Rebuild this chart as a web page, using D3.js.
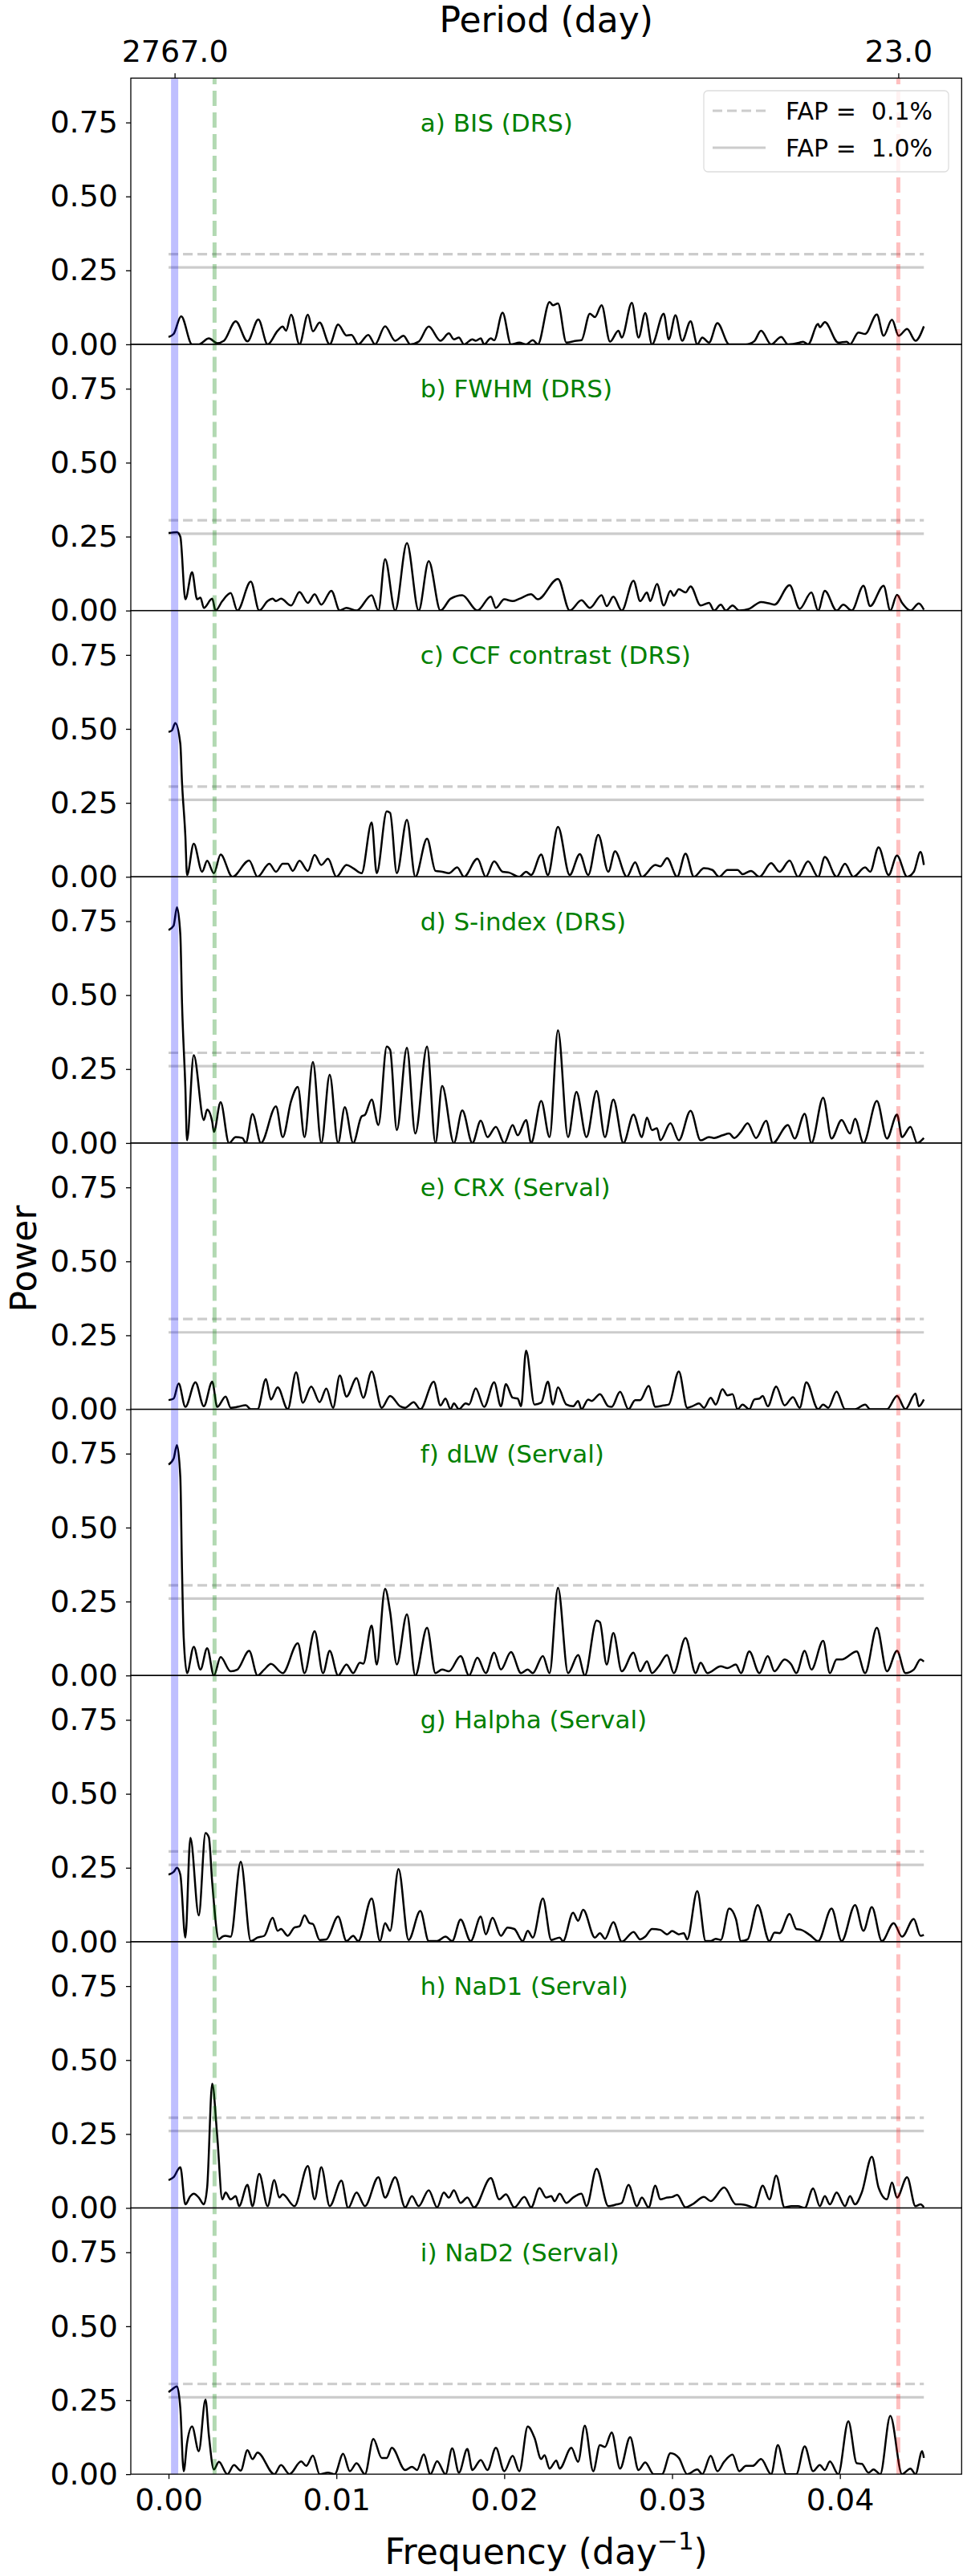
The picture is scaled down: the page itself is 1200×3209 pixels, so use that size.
<!DOCTYPE html>
<html>
<head>
<meta charset="utf-8">
<script src="https://cdn.jsdelivr.net/npm/d3@7"></script>
<style>
  body { margin: 0; background: #fff; }
  svg { display: block; font-family: "DejaVu Sans", sans-serif; }
</style>
</head>
<body>
<div id="chart"></div>
<script>
// panel titles, in drawing order
var titles = ["a) BIS (DRS)", "b) FWHM (DRS)", "c) CCF contrast (DRS)", "d) S-index (DRS)",
  "e) CRX (Serval)", "f) dLW (Serval)", "g) Halpha (Serval)", "h) NaD1 (Serval)", "i) NaD2 (Serval)"];

// periodograms: [frequency (1/day), power]
var bisDRS = [[0,0.025],[0.0003,0.035],[0.00075,0.095],[0.0014,0.0],[0.0018,0.0],[0.0024,0.02],[0.0029,0.004],[0.0033,0.012],[0.004,0.078],[0.0047,0.01],[0.00535,0.084],[0.0059,0.0],[0.0065,0.046],[0.0068,0.06],[0.007,0.046],[0.0073,0.10],[0.0078,0.0],[0.0083,0.10],[0.0086,0.044],[0.009,0.074],[0.0096,0.0],[0.0101,0.067],[0.0106,0.03],[0.0109,0.032],[0.0113,0.0],[0.0119,0.032],[0.0123,0.0],[0.0129,0.061],[0.0135,0.012],[0.014,0.029],[0.0144,0.0],[0.0149,0.009],[0.0155,0.06],[0.0162,0.012],[0.0167,0.037],[0.017,0.017],[0.0173,0.023],[0.0176,0.0],[0.0181,0.017],[0.0183,0.012],[0.0186,0.02],[0.0188,0.0],[0.0192,0.02],[0.0194,0.014],[0.0199,0.107],[0.0204,0.0],[0.0209,0.006],[0.0213,0.0],[0.0217,0.014],[0.022,0.0],[0.0227,0.143],[0.0229,0.132],[0.0232,0.138],[0.0237,0.006],[0.0243,0.012],[0.0246,0.014],[0.0251,0.104],[0.0254,0.092],[0.0258,0.132],[0.0263,0.009],[0.0268,0.046],[0.027,0.023],[0.0276,0.14],[0.028,0.023],[0.0284,0.106],[0.0288,0.0],[0.0295,0.104],[0.0298,0.017],[0.0302,0.098],[0.0306,0.012],[0.0311,0.078],[0.0315,0.0],[0.0318,0.023],[0.0322,0.006],[0.0327,0.072],[0.0334,0.0],[0.0344,0.0],[0.0349,0.011],[0.0353,0.046],[0.0359,0.0],[0.0365,0.025],[0.0369,0.0],[0.0376,0.006],[0.0378,0.009],[0.0381,0.0],[0.0387,0.069],[0.0388,0.058],[0.0391,0.075],[0.0399,0.006],[0.0404,0.009],[0.0406,0.0],[0.0411,0.04],[0.0415,0.035],[0.0422,0.101],[0.0426,0.029],[0.0431,0.083],[0.0435,0.029],[0.044,0.052],[0.0445,0.012],[0.045,0.061]];

var fwhmDRS = [[0,0.262],[0.0005,0.265],[0.0007,0.25],[0.001,0.038],[0.0014,0.13],[0.0017,0.038],[0.0019,0.044],[0.0021,0.009],[0.0026,0.04],[0.0028,0.0],[0.0032,0.032],[0.0037,0.059],[0.0041,0.0],[0.0049,0.098],[0.0054,0.0],[0.0059,0.032],[0.0062,0.04],[0.0064,0.032],[0.0067,0.04],[0.0073,0.017],[0.0078,0.063],[0.0083,0.026],[0.0087,0.055],[0.0091,0.02],[0.0097,0.067],[0.0102,0.0],[0.0106,0.009],[0.0112,0.0],[0.0121,0.052],[0.0125,0.0],[0.0129,0.174],[0.0135,0.0],[0.0142,0.228],[0.0149,0.0],[0.0155,0.167],[0.0162,0.0],[0.0168,0.04],[0.0175,0.052],[0.0184,0.0],[0.0192,0.047],[0.0195,0.009],[0.02,0.038],[0.0205,0.032],[0.0209,0.04],[0.0216,0.055],[0.022,0.038],[0.0232,0.107],[0.0239,0.0],[0.0246,0.035],[0.0251,0.009],[0.0258,0.052],[0.0261,0.015],[0.0265,0.047],[0.027,0.0],[0.0277,0.101],[0.0281,0.032],[0.0285,0.061],[0.0287,0.032],[0.0291,0.09],[0.0295,0.017],[0.0299,0.067],[0.0301,0.05],[0.0304,0.072],[0.0308,0.061],[0.0311,0.082],[0.0317,0.017],[0.0322,0.026],[0.0325,0.0],[0.0329,0.02],[0.0332,0.0],[0.0336,0.017],[0.034,0.0],[0.0346,0.006],[0.0353,0.029],[0.0358,0.024],[0.0361,0.02],[0.037,0.086],[0.0376,0.006],[0.0383,0.061],[0.0387,0.0],[0.0391,0.067],[0.0398,0.0],[0.0402,0.02],[0.0407,0.0],[0.0414,0.084],[0.0418,0.015],[0.0426,0.084],[0.043,0.0],[0.0434,0.053],[0.0437,0.026],[0.0442,0.0],[0.0447,0.024],[0.045,0.003]];

var ccfDRS = [[0,0.49],[0.0002,0.495],[0.0004,0.52],[0.0007,0.45],[0.0008,0.32],[0.001,0.138],[0.0011,0.006],[0.0015,0.112],[0.002,0.017],[0.0023,0.054],[0.0027,0.012],[0.0031,0.075],[0.0038,0.0],[0.0048,0.055],[0.0053,0.0],[0.006,0.044],[0.0064,0.017],[0.0068,0.044],[0.0071,0.044],[0.0074,0.02],[0.0078,0.054],[0.0083,0.02],[0.0087,0.074],[0.0091,0.04],[0.0095,0.061],[0.01,0.0],[0.0106,0.04],[0.011,0.029],[0.0115,0.012],[0.0121,0.184],[0.0124,0.012],[0.013,0.221],[0.0132,0.216],[0.0136,0.012],[0.0142,0.193],[0.0147,0.0],[0.0154,0.129],[0.0159,0.02],[0.0163,0.017],[0.0167,0.012],[0.0172,0.032],[0.0176,0.0],[0.0184,0.061],[0.0189,0.0],[0.0194,0.052],[0.0199,0.017],[0.0203,0.014],[0.0209,0.0],[0.0213,0.017],[0.0216,0.006],[0.0222,0.075],[0.0226,0.006],[0.0232,0.169],[0.0239,0.006],[0.0245,0.077],[0.025,0.006],[0.0256,0.142],[0.0262,0.017],[0.0266,0.086],[0.0273,0.0],[0.0278,0.049],[0.0282,0.0],[0.029,0.04],[0.0293,0.035],[0.0297,0.063],[0.0303,0.0],[0.0308,0.078],[0.0313,0.0],[0.0319,0.029],[0.0324,0.023],[0.0328,0.0],[0.0333,0.023],[0.0339,0.023],[0.0342,0.009],[0.0347,0.02],[0.0352,0.0],[0.0359,0.046],[0.0364,0.017],[0.037,0.055],[0.0375,0.0],[0.0381,0.052],[0.0387,0.0],[0.0391,0.067],[0.0398,0.0],[0.0403,0.044],[0.0408,0.0],[0.0415,0.032],[0.0418,0.017],[0.0423,0.1],[0.0429,0.006],[0.0434,0.072],[0.044,0.0],[0.0444,0.017],[0.0448,0.084],[0.045,0.04]];

var sindexDRS = [[0,0.72],[0.0003,0.735],[0.0005,0.797],[0.0007,0.705],[0.0008,0.475],[0.001,0.188],[0.0011,0.009],[0.0015,0.297],[0.0021,0.078],[0.0023,0.113],[0.0026,0.072],[0.0027,0.038],[0.0031,0.138],[0.0036,0.0],[0.004,0.02],[0.0044,0.017],[0.0046,0.0],[0.005,0.098],[0.0055,0.0],[0.0064,0.124],[0.0068,0.02],[0.0073,0.142],[0.0077,0.19],[0.0081,0.02],[0.0086,0.274],[0.0091,0.0],[0.0096,0.231],[0.0101,0.0],[0.0105,0.121],[0.011,0.0],[0.0115,0.09],[0.0117,0.095],[0.0121,0.147],[0.0125,0.061],[0.013,0.326],[0.0132,0.315],[0.0136,0.044],[0.0142,0.322],[0.0147,0.032],[0.0154,0.326],[0.0159,0.0],[0.0163,0.193],[0.017,0.0],[0.0175,0.11],[0.0181,0.0],[0.0186,0.076],[0.019,0.02],[0.0195,0.055],[0.02,0.0],[0.0205,0.061],[0.0208,0.026],[0.0213,0.078],[0.0216,0.0],[0.0222,0.142],[0.0227,0.02],[0.0232,0.381],[0.0238,0.02],[0.0243,0.173],[0.0249,0.02],[0.0255,0.176],[0.026,0.02],[0.0265,0.147],[0.0271,0.0],[0.0277,0.096],[0.0282,0.02],[0.0285,0.086],[0.0288,0.044],[0.0291,0.05],[0.0293,0.009],[0.0299,0.067],[0.0304,0.009],[0.0311,0.109],[0.0317,0.009],[0.0322,0.02],[0.0325,0.017],[0.033,0.026],[0.0334,0.032],[0.0337,0.017],[0.0341,0.038],[0.0345,0.067],[0.035,0.017],[0.0356,0.075],[0.036,0.0],[0.0369,0.061],[0.0373,0.015],[0.0379,0.099],[0.0383,0.0],[0.039,0.153],[0.0395,0.015],[0.0401,0.078],[0.0406,0.032],[0.0409,0.082],[0.0414,0.0],[0.0422,0.142],[0.0428,0.015],[0.0434,0.096],[0.0437,0.02],[0.0442,0.055],[0.0446,0.0],[0.045,0.017]];

var crxServal = [[0,0.031],[0.0003,0.036],[0.0006,0.087],[0.001,0.008],[0.0016,0.091],[0.0021,0.01],[0.0026,0.093],[0.0029,0.008],[0.0034,0.043],[0.0037,0.005],[0.0041,0.008],[0.0046,0.014],[0.0049,0.0],[0.0053,0.0],[0.0058,0.102],[0.0061,0.033],[0.0065,0.074],[0.0071,0.0],[0.0076,0.125],[0.008,0.022],[0.0085,0.077],[0.009,0.024],[0.0094,0.07],[0.0098,0.005],[0.0102,0.114],[0.0106,0.043],[0.0112,0.105],[0.0116,0.039],[0.0121,0.128],[0.0127,0.005],[0.0132,0.045],[0.0138,0.01],[0.0141,0.005],[0.0146,0.024],[0.015,0.0],[0.0158,0.093],[0.0162,0.013],[0.0165,0.036],[0.0168,0.0],[0.017,0.02],[0.0173,0.0],[0.0177,0.02],[0.0179,0.016],[0.0183,0.071],[0.0188,0.008],[0.0194,0.091],[0.0198,0.01],[0.0201,0.085],[0.0205,0.039],[0.0208,0.036],[0.021,0.01],[0.0213,0.198],[0.0218,0.016],[0.0222,0.022],[0.0226,0.093],[0.0229,0.016],[0.0232,0.074],[0.0237,0.016],[0.0241,0.01],[0.0244,0.028],[0.0246,0.0],[0.025,0.033],[0.0252,0.028],[0.0257,0.051],[0.0262,0.01],[0.0264,0.008],[0.0269,0.059],[0.0274,0.0],[0.0278,0.031],[0.0281,0.031],[0.0286,0.079],[0.029,0.008],[0.0295,0.013],[0.0298,0.016],[0.0304,0.128],[0.0309,0.005],[0.0312,0.01],[0.0316,0.02],[0.0319,0.005],[0.0323,0.039],[0.0326,0.016],[0.033,0.068],[0.0333,0.047],[0.0336,0.051],[0.0339,0.0],[0.0342,0.016],[0.0346,0.0],[0.0349,0.033],[0.0352,0.036],[0.0354,0.045],[0.0357,0.01],[0.0362,0.077],[0.0367,0.013],[0.0372,0.041],[0.0376,0.005],[0.038,0.091],[0.0387,0.0],[0.039,0.016],[0.0393,0.005],[0.0398,0.06],[0.0403,0.0],[0.0409,0.0],[0.0415,0.016],[0.0418,0.0],[0.0428,0.0],[0.0434,0.045],[0.0439,0.0],[0.0445,0.053],[0.0447,0.01],[0.045,0.033]];

var dlwServal = [[0,0.713],[0.0003,0.733],[0.0005,0.779],[0.0007,0.67],[0.0008,0.36],[0.0009,0.129],[0.0011,0.008],[0.0015,0.097],[0.0019,0.02],[0.0023,0.092],[0.0027,0.0],[0.0031,0.062],[0.0037,0.014],[0.0041,0.02],[0.0048,0.083],[0.0053,0.0],[0.0057,0.02],[0.0061,0.039],[0.0068,0.008],[0.0077,0.109],[0.0081,0.008],[0.0087,0.15],[0.0092,0.008],[0.0096,0.083],[0.0101,0.0],[0.0106,0.037],[0.011,0.008],[0.0114,0.043],[0.0116,0.04],[0.0121,0.169],[0.0124,0.037],[0.0129,0.293],[0.0132,0.215],[0.0136,0.037],[0.0142,0.207],[0.0147,0.0],[0.0154,0.161],[0.0159,0.008],[0.0163,0.02],[0.0167,0.014],[0.0174,0.066],[0.0179,0.0],[0.0184,0.06],[0.0189,0.008],[0.0194,0.077],[0.0198,0.02],[0.0204,0.079],[0.021,0.008],[0.0214,0.02],[0.0217,0.008],[0.0223,0.066],[0.0227,0.008],[0.0232,0.296],[0.0238,0.008],[0.0244,0.069],[0.0248,0.0],[0.0255,0.186],[0.0257,0.18],[0.0261,0.037],[0.0265,0.144],[0.027,0.014],[0.0277,0.077],[0.0281,0.014],[0.0285,0.048],[0.0288,0.008],[0.0292,0.031],[0.0297,0.069],[0.0301,0.008],[0.0308,0.127],[0.0314,0.008],[0.0317,0.043],[0.0321,0.008],[0.0329,0.031],[0.0333,0.025],[0.0338,0.037],[0.0341,0.008],[0.0346,0.081],[0.0352,0.008],[0.0357,0.066],[0.0361,0.014],[0.0367,0.054],[0.0371,0.037],[0.0374,0.008],[0.0379,0.083],[0.0383,0.02],[0.039,0.117],[0.0394,0.008],[0.0398,0.054],[0.0401,0.054],[0.041,0.081],[0.0415,0.008],[0.0422,0.161],[0.0428,0.014],[0.0434,0.083],[0.0439,0.008],[0.0444,0.02],[0.0448,0.054],[0.045,0.047]];

var halphaServal = [[0,0.227],[0.0003,0.236],[0.0005,0.25],[0.0007,0.227],[0.001,0.014],[0.0013,0.351],[0.0018,0.089],[0.0022,0.367],[0.0024,0.353],[0.0026,0.2],[0.003,0.008],[0.0032,0.017],[0.0034,0.02],[0.0037,0.017],[0.0043,0.27],[0.0049,0.002],[0.0053,0.014],[0.0057,0.02],[0.0062,0.081],[0.0065,0.037],[0.0067,0.043],[0.0071,0.02],[0.0075,0.048],[0.0078,0.052],[0.0081,0.089],[0.0084,0.063],[0.0086,0.06],[0.009,0.006],[0.0094,0.008],[0.0101,0.085],[0.0106,0.002],[0.011,0.02],[0.0113,0.002],[0.0121,0.146],[0.0126,0.002],[0.0129,0.063],[0.0132,0.037],[0.0137,0.246],[0.0143,0.006],[0.015,0.104],[0.0155,0.002],[0.016,0.002],[0.0165,0.017],[0.0169,0.002],[0.0174,0.075],[0.018,0.002],[0.0186,0.085],[0.0189,0.025],[0.0193,0.081],[0.0198,0.02],[0.0202,0.048],[0.0206,0.043],[0.0211,0.002],[0.0214,0.037],[0.0217,0.014],[0.0223,0.146],[0.0228,0.006],[0.0233,0.014],[0.0235,0.002],[0.0241,0.098],[0.0244,0.071],[0.0247,0.108],[0.0254,0.014],[0.0257,0.029],[0.026,0.01],[0.0265,0.066],[0.027,0.0],[0.0277,0.033],[0.0281,0.008],[0.0284,0.017],[0.0288,0.043],[0.0293,0.04],[0.0297,0.025],[0.03,0.036],[0.0304,0.025],[0.0307,0.029],[0.0309,0.008],[0.0315,0.171],[0.032,0.002],[0.0323,0.002],[0.0326,0.01],[0.0329,0.006],[0.0334,0.112],[0.0338,0.077],[0.0341,0.002],[0.0345,0.008],[0.0351,0.124],[0.0358,0.002],[0.0361,0.031],[0.0364,0.029],[0.037,0.094],[0.0374,0.043],[0.0377,0.04],[0.0382,0.023],[0.0387,0.002],[0.0395,0.112],[0.0401,0.002],[0.0409,0.124],[0.0414,0.037],[0.0419,0.117],[0.0425,0.002],[0.0432,0.063],[0.0437,0.017],[0.0444,0.077],[0.0448,0.02],[0.045,0.023]];

var nad1Serval = [[0,0.094],[0.0003,0.104],[0.0007,0.138],[0.001,0.012],[0.0013,0.04],[0.0015,0.048],[0.0018,0.035],[0.0021,0.012],[0.0023,0.07],[0.0026,0.42],[0.0029,0.242],[0.0032,0.029],[0.0034,0.052],[0.0037,0.029],[0.004,0.04],[0.0042,0.006],[0.0047,0.078],[0.005,0.006],[0.0054,0.115],[0.0059,0.006],[0.0063,0.094],[0.0066,0.035],[0.0068,0.046],[0.0075,0.006],[0.0083,0.142],[0.0087,0.029],[0.0091,0.138],[0.0096,0.006],[0.0103,0.092],[0.0107,0.0],[0.0112,0.052],[0.0117,0.006],[0.0125,0.104],[0.0129,0.035],[0.0135,0.104],[0.0141,0.002],[0.0145,0.04],[0.0149,0.006],[0.0155,0.06],[0.016,0.002],[0.0164,0.052],[0.0167,0.035],[0.017,0.06],[0.0174,0.017],[0.0178,0.035],[0.0182,0.002],[0.0192,0.101],[0.0197,0.029],[0.0201,0.046],[0.0206,0.002],[0.0212,0.037],[0.0216,0.002],[0.0221,0.067],[0.0225,0.035],[0.0228,0.04],[0.023,0.023],[0.0233,0.048],[0.0237,0.017],[0.0241,0.035],[0.0246,0.048],[0.0249,0.006],[0.0255,0.132],[0.0262,0.006],[0.0267,0.012],[0.027,0.017],[0.0274,0.078],[0.0279,0.006],[0.0282,0.035],[0.0286,0.002],[0.029,0.075],[0.0293,0.029],[0.0297,0.035],[0.03,0.037],[0.0303,0.044],[0.0308,0.002],[0.0312,0.012],[0.0319,0.037],[0.0323,0.023],[0.0331,0.069],[0.0338,0.012],[0.0341,0.012],[0.0346,0.006],[0.0349,0.0],[0.0354,0.075],[0.0358,0.029],[0.0362,0.109],[0.0367,0.002],[0.0371,0.006],[0.0375,0.006],[0.0379,0.0],[0.0384,0.066],[0.0388,0.006],[0.0391,0.04],[0.0394,0.012],[0.0398,0.052],[0.0403,0.006],[0.0406,0.04],[0.0409,0.012],[0.0413,0.052],[0.0419,0.173],[0.0423,0.069],[0.0428,0.029],[0.0431,0.086],[0.0434,0.035],[0.044,0.104],[0.0445,0.006],[0.0448,0.012],[0.045,0.002]];

var nad2Serval = [[0,0.277],[0.0002,0.286],[0.0005,0.297],[0.0007,0.223],[0.0009,0.01],[0.0011,0.105],[0.0014,0.161],[0.0018,0.078],[0.0022,0.252],[0.0024,0.132],[0.0027,0.016],[0.003,0.042],[0.0035,0.0],[0.0039,0.031],[0.0043,0.012],[0.0047,0.081],[0.005,0.051],[0.0053,0.073],[0.0063,0.0],[0.0067,0.031],[0.0072,0.0],[0.0079,0.043],[0.0082,0.028],[0.0086,0.063],[0.009,0.0],[0.0095,0.005],[0.0099,0.0],[0.0104,0.069],[0.0108,0.01],[0.0112,0.037],[0.0117,0.0],[0.0122,0.119],[0.0127,0.055],[0.013,0.055],[0.0133,0.089],[0.0141,0.014],[0.0145,0.025],[0.0148,0.014],[0.0152,0.067],[0.0156,0.0],[0.016,0.044],[0.0165,0.0],[0.0169,0.087],[0.0173,0.005],[0.0178,0.085],[0.0181,0.014],[0.0186,0.048],[0.019,0.014],[0.0195,0.089],[0.02,0.01],[0.0205,0.062],[0.0209,0.01],[0.0214,0.161],[0.0218,0.123],[0.0222,0.051],[0.0224,0.064],[0.0227,0.019],[0.0231,0.046],[0.0233,0.019],[0.024,0.089],[0.0244,0.042],[0.0248,0.164],[0.0253,0.01],[0.0257,0.098],[0.026,0.092],[0.0264,0.141],[0.0269,0.019],[0.0275,0.125],[0.028,0.014],[0.0284,0.04],[0.0289,0.0],[0.0294,0.0],[0.0299,0.071],[0.0304,0.055],[0.0309,0.0],[0.0315,0.016],[0.0318,0.0],[0.0323,0.062],[0.0327,0.01],[0.0331,0.042],[0.0336,0.066],[0.034,0.01],[0.0344,0.028],[0.0348,0.028],[0.0353,0.051],[0.0359,0.0],[0.0363,0.098],[0.0368,0.0],[0.0374,0.0],[0.0379,0.094],[0.0384,0.01],[0.0388,0.031],[0.0391,0.014],[0.0394,0.043],[0.0399,0.0],[0.0405,0.179],[0.041,0.037],[0.0413,0.035],[0.0417,0.005],[0.042,0.016],[0.0424,0.0],[0.043,0.197],[0.0437,0.0],[0.0442,0.019],[0.0445,0.0],[0.0449,0.078],[0.045,0.055]];

var series = [bisDRS, fwhmDRS, ccfDRS, sindexDRS, crxServal, dlwServal, halphaServal, nad1Serval, nad2Serval];

// false alarm probability levels and marked periods
var fapLevels = [0.305, 0.26];            // FAP 0.1%, FAP 1.0%
var fapLabels = ["FAP =  0.1%", "FAP =  1.0%"];
var periodBaseline = 2767.0;              // blue band
var periodYear = 365.0;                   // green dashed
var periodRot = 23.0;                     // red dashed
var yTicks = [0, 0.25, 0.5, 0.75];
var xTicks = [0, 0.01, 0.02, 0.03, 0.04];
var topTicks = [2767.0, 23.0];

// ---- layout ----
var width = 1200, height = 3209;
var plotLeft = 163, plotRight = 1198.3, plotTop = 97.3, panelH = 331.65;
var nPanels = series.length;

var svg = d3.select("#chart").append("svg")
  .attr("width", width)
  .attr("height", height);

var x = d3.scaleLinear()
  .domain([-0.00225, 0.04725])
  .range([plotLeft, plotRight]);

var line = d3.line().curve(d3.curveMonotoneX);

series.forEach(function(data, i) {
  var top = plotTop + i * panelH;
  var y = d3.scaleLinear().domain([0, 0.9]).range([top + panelH, top]);

  var g = svg.append("g");

  g.append("clipPath").attr("id", "clip" + i)
    .append("rect")
      .attr("x", plotLeft).attr("y", top)
      .attr("width", plotRight - plotLeft).attr("height", panelH);

  var inner = g.append("g").attr("clip-path", "url(#clip" + i + ")");

  // FAP levels
  inner.append("line")
    .attr("x1", x(0)).attr("x2", x(0.045))
    .attr("y1", y(fapLevels[0])).attr("y2", y(fapLevels[0]))
    .attr("stroke", "#cccccc").attr("stroke-width", 3.2)
    .attr("stroke-dasharray", "12,6");
  inner.append("line")
    .attr("x1", x(0)).attr("x2", x(0.045))
    .attr("y1", y(fapLevels[1])).attr("y2", y(fapLevels[1]))
    .attr("stroke", "#cccccc").attr("stroke-width", 3.2);

  // periodogram
  inner.append("path")
    .datum(data)
    .attr("d", line.x(function(d) { return x(d[0]); }).y(function(d) { return y(d[1]); }))
    .attr("fill", "none")
    .attr("stroke", "black")
    .attr("stroke-width", 2.5)
    .attr("stroke-linejoin", "round");

  // marked periods
  inner.append("line")
    .attr("x1", x(1 / periodBaseline)).attr("x2", x(1 / periodBaseline))
    .attr("y1", top).attr("y2", top + panelH)
    .attr("stroke", "blue").attr("stroke-opacity", 0.25).attr("stroke-width", 9);
  inner.append("line")
    .attr("x1", x(1 / periodYear)).attr("x2", x(1 / periodYear))
    .attr("y1", top + panelH).attr("y2", top)
    .attr("stroke", "green").attr("stroke-opacity", 0.3).attr("stroke-width", 5)
    .attr("stroke-dasharray", "19,8");
  inner.append("line")
    .attr("x1", x(1 / periodRot)).attr("x2", x(1 / periodRot))
    .attr("y1", top + panelH).attr("y2", top)
    .attr("stroke", "red").attr("stroke-opacity", 0.25).attr("stroke-width", 5)
    .attr("stroke-dasharray", "19,8");

  // y axis
  var yAxis = g.append("g")
    .attr("transform", "translate(" + plotLeft + ",0)")
    .call(d3.axisLeft(y).tickValues(yTicks).tickFormat(d3.format(".2f")).tickSize(6).tickPadding(10));
  yAxis.select(".domain").remove();
  yAxis.selectAll("text").style("font-size", "38px").style("font-family", "DejaVu Sans");
  yAxis.selectAll("line").attr("stroke", "black").attr("stroke-width", 1.3);

  // panel title
  g.append("text")
    .attr("x", x(0.015))
    .attr("y", y(0.75))
    .attr("dominant-baseline", "central")
    .attr("fill", "green")
    .style("font-size", "31px")
    .text(titles[i]);

  // frame
  g.append("rect")
    .attr("x", plotLeft).attr("y", top)
    .attr("width", plotRight - plotLeft).attr("height", panelH)
    .attr("fill", "none").attr("stroke", "black").attr("stroke-width", 1.3);

  if (i === 0) {
    // top axis in period
    var topAxis = g.append("g")
      .attr("transform", "translate(0," + top + ")")
      .call(d3.axisTop(x).tickValues(topTicks.map(function(p) { return 1 / p; }))
        .tickFormat(function(f) { return (1 / f).toFixed(1); }).tickSize(6).tickPadding(14));
    topAxis.select(".domain").remove();
    topAxis.selectAll("text").style("font-size", "38px").style("font-family", "DejaVu Sans");
    topAxis.selectAll("line").attr("stroke", "black").attr("stroke-width", 1.3);

    // legend
    var lg = g.append("g");
    lg.append("rect")
      .attr("x", 877).attr("y", 113).attr("width", 305).attr("height", 101)
      .attr("rx", 5).attr("fill", "white").attr("fill-opacity", 0.8)
      .attr("stroke", "#dddddd").attr("stroke-width", 1.3);
    fapLabels.forEach(function(lab, k) {
      var ly = 138 + k * 46;
      lg.append("line")
        .attr("x1", 888).attr("x2", 954).attr("y1", ly).attr("y2", ly)
        .attr("stroke", "#cccccc").attr("stroke-width", 3.2)
        .attr("stroke-dasharray", k === 0 ? "12,6" : null);
      lg.append("text")
        .attr("x", 979).attr("y", ly)
        .attr("dominant-baseline", "central")
        .style("font-size", "30px")
        .style("white-space", "pre")
        .attr("xml:space", "preserve")
        .text(lab);
    });
  }

  if (i === nPanels - 1) {
    var xAxis = g.append("g")
      .attr("transform", "translate(0," + (top + panelH) + ")")
      .call(d3.axisBottom(x).tickValues(xTicks).tickFormat(d3.format(".2f")).tickSize(6).tickPadding(12));
    xAxis.select(".domain").remove();
    xAxis.selectAll("text").style("font-size", "38px").style("font-family", "DejaVu Sans");
    xAxis.selectAll("line").attr("stroke", "black").attr("stroke-width", 1.3);
  }
});

// axis titles
svg.append("text")
  .attr("x", (plotLeft + plotRight) / 2)
  .attr("y", 40)
  .attr("text-anchor", "middle")
  .style("font-size", "44px")
  .text("Period (day)");

var xl = svg.append("text")
  .attr("x", (plotLeft + plotRight) / 2)
  .attr("y", 3194)
  .attr("text-anchor", "middle")
  .style("font-size", "44px");
xl.append("tspan").text("Frequency (day");
xl.append("tspan").attr("dy", -18).style("font-size", "31px").text("\u22121");
xl.append("tspan").attr("dy", 18).text(")");

svg.append("text")
  .attr("transform", "translate(45," + 1568 + ") rotate(-90)")
  .attr("text-anchor", "middle")
  .style("font-size", "44px")
  .text("Power");
</script>
</body>
</html>
